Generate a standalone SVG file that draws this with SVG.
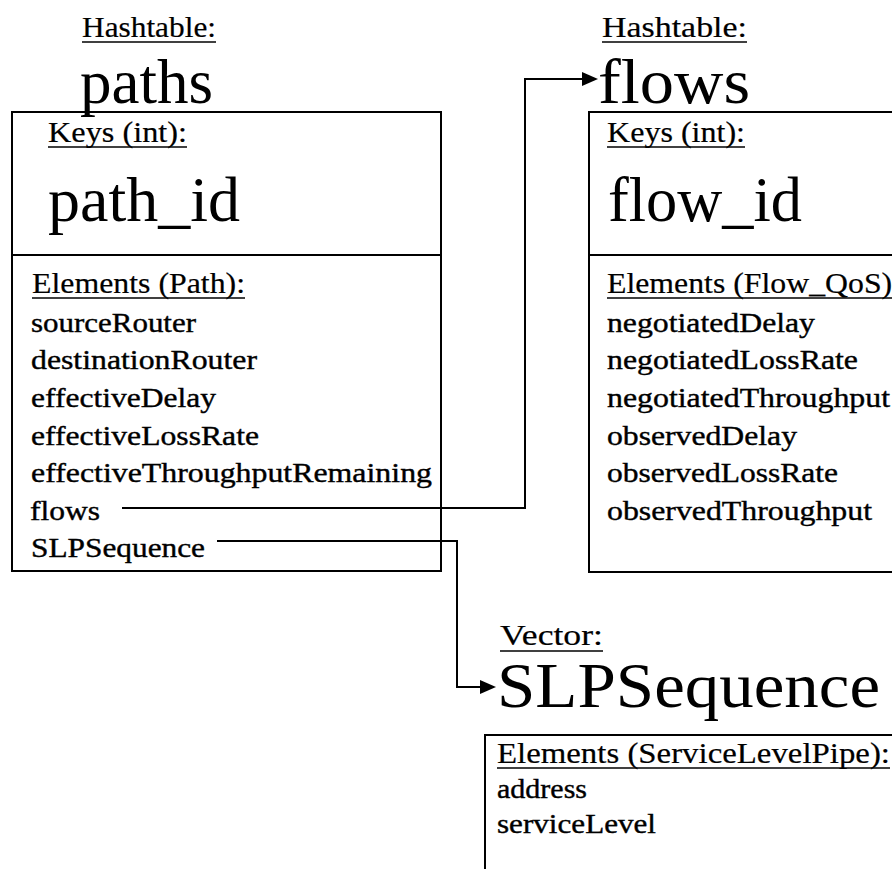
<svg xmlns="http://www.w3.org/2000/svg" width="892" height="869" viewBox="0 0 892 869">
<defs>
<style>
text{font-family:"Liberation Serif","Times New Roman",serif;fill:#000}
.s{font-size:28px;stroke:#000;stroke-width:0.4}
.h{font-size:29px;stroke:#000;stroke-width:0.2}
.b{font-size:64px}
.box{fill:none;stroke:#000;stroke-width:2}
.ln{stroke:#000;stroke-width:2;fill:none}
.ul{stroke:#000;stroke-width:1.6}
.arr{fill:#000}
</style>
</defs>
<rect width="892" height="869" fill="#fff"/>

<g id="paths">
<text class="h" x="82" y="37" textLength="134" lengthAdjust="spacingAndGlyphs">Hashtable:</text>
<line class="ul" x1="82" y1="42" x2="216" y2="42"/>
<text class="b" x="80" y="103" textLength="133" lengthAdjust="spacingAndGlyphs">paths</text>
<rect class="box" x="12" y="112" width="429" height="459"/>
<line class="ln" x1="12" y1="255" x2="441" y2="255"/>
<text class="h" x="48" y="142" textLength="139" lengthAdjust="spacingAndGlyphs">Keys (int):</text>
<line class="ul" x1="48" y1="147" x2="187" y2="147"/>
<text class="b" x="48" y="221" textLength="192" lengthAdjust="spacingAndGlyphs">path_id</text>
<text class="h" x="32" y="293" textLength="213" lengthAdjust="spacingAndGlyphs">Elements (Path):</text>
<line class="ul" x1="32" y1="298" x2="245" y2="298"/>
<text class="s" x="31" y="332" textLength="165" lengthAdjust="spacingAndGlyphs">sourceRouter</text>
<text class="s" x="31" y="369" textLength="226" lengthAdjust="spacingAndGlyphs">destinationRouter</text>
<text class="s" x="31" y="407" textLength="185" lengthAdjust="spacingAndGlyphs">effectiveDelay</text>
<text class="s" x="31" y="445" textLength="228" lengthAdjust="spacingAndGlyphs">effectiveLossRate</text>
<text class="s" x="31" y="482" textLength="401" lengthAdjust="spacingAndGlyphs">effectiveThroughputRemaining</text>
<text class="s" x="30" y="520" textLength="70" lengthAdjust="spacingAndGlyphs">flows</text>
<text class="s" x="31" y="557" textLength="174" lengthAdjust="spacingAndGlyphs">SLPSequence</text>
</g>

<g id="flows">
<text class="h" x="602" y="37" textLength="145" lengthAdjust="spacingAndGlyphs">Hashtable:</text>
<line class="ul" x1="602" y1="42" x2="747" y2="42"/>
<text class="b" x="598" y="103" textLength="152" lengthAdjust="spacingAndGlyphs">flows</text>
<rect class="box" x="589" y="112" width="320" height="460"/>
<line class="ln" x1="589" y1="255" x2="900" y2="255"/>
<text class="h" x="607" y="142" textLength="138" lengthAdjust="spacingAndGlyphs">Keys (int):</text>
<line class="ul" x1="607" y1="147" x2="745" y2="147"/>
<text class="b" x="608" y="221" textLength="194" lengthAdjust="spacingAndGlyphs">flow_id</text>
<text class="h" x="607" y="293" textLength="294" lengthAdjust="spacingAndGlyphs">Elements (Flow_QoS):</text>
<line class="ul" x1="607" y1="298" x2="901" y2="298"/>
<text class="s" x="607" y="332" textLength="208" lengthAdjust="spacingAndGlyphs">negotiatedDelay</text>
<text class="s" x="607" y="369" textLength="251" lengthAdjust="spacingAndGlyphs">negotiatedLossRate</text>
<text class="s" x="607" y="407" textLength="283" lengthAdjust="spacingAndGlyphs">negotiatedThroughput</text>
<text class="s" x="607" y="445" textLength="190" lengthAdjust="spacingAndGlyphs">observedDelay</text>
<text class="s" x="607" y="482" textLength="231" lengthAdjust="spacingAndGlyphs">observedLossRate</text>
<text class="s" x="607" y="520" textLength="265" lengthAdjust="spacingAndGlyphs">observedThroughput</text>
</g>

<g id="SLPSequence">
<text class="h" x="500" y="645" textLength="103" lengthAdjust="spacingAndGlyphs">Vector:</text>
<line class="ul" x1="500" y1="651" x2="603" y2="651"/>
<text class="b" x="497" y="707" textLength="383" lengthAdjust="spacingAndGlyphs">SLPSequence</text>
<rect class="box" x="485" y="735" width="420" height="150"/>
<text class="h" x="497" y="763" textLength="393" lengthAdjust="spacingAndGlyphs">Elements (ServiceLevelPipe):</text>
<line class="ul" x1="497" y1="768" x2="890" y2="768"/>
<text class="s" x="497" y="798" textLength="90" lengthAdjust="spacingAndGlyphs">address</text>
<text class="s" x="497" y="833" textLength="159" lengthAdjust="spacingAndGlyphs">serviceLevel</text>
</g>

<g id="connectors">
<path class="ln" d="M122,508 H525 V79 H584"/>
<polygon class="arr" points="582,72 598,79 582,86"/>
<path class="ln" d="M217,541 H457 V687 H482"/>
<polygon class="arr" points="480,680 496,687 480,694"/>
</g>
</svg>
